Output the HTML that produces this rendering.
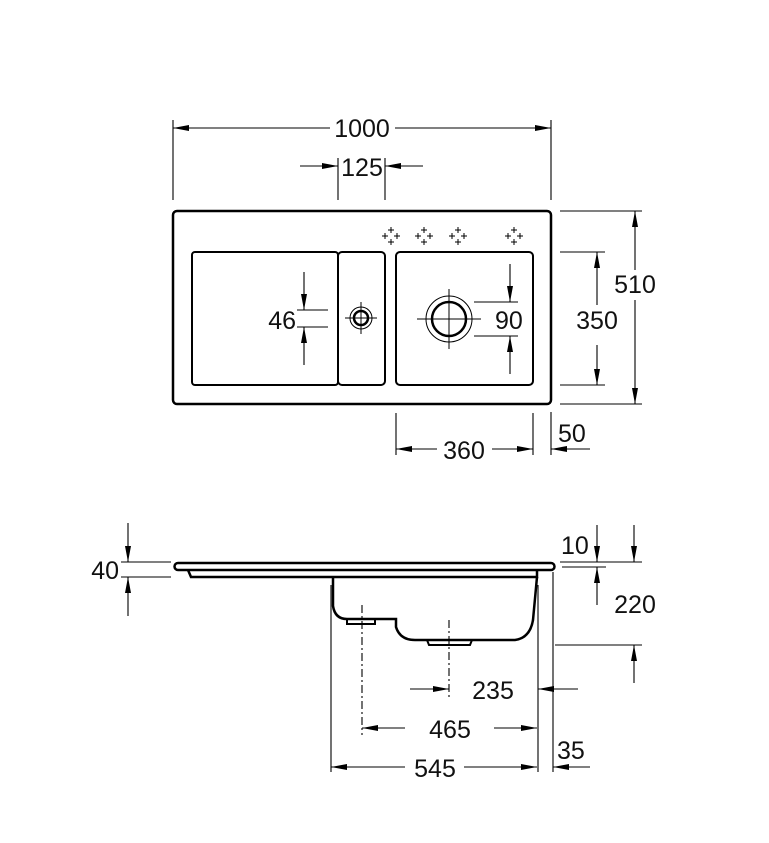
<!DOCTYPE html>
<html><head><meta charset="utf-8"><style>
html,body{margin:0;padding:0;background:#fff;width:769px;height:843px;overflow:hidden}
svg{display:block}
text{font-family:"Liberation Sans",Arial,sans-serif;font-size:25px;fill:#111}
</style></head><body>
<svg width="769" height="843" viewBox="0 0 769 843" xmlns="http://www.w3.org/2000/svg">
<defs>
<marker id="a" viewBox="0 0 16 6" refX="16" refY="3" markerWidth="16" markerHeight="6" orient="auto-start-reverse" markerUnits="userSpaceOnUse"><path d="M0,0 L16,3 L0,6 Z" fill="#000"/></marker>
<g id="tap"><path d="M0,-9v6M-3,-6h6M0,3v6M-3,6h6M-9,0h6M-6,-3v6M3,0h6M6,-3v6" stroke="#000" stroke-width="1"/></g>
</defs>
<g fill="none" stroke="#000">
<rect x="173" y="211" width="378" height="193" rx="4" stroke-width="2.5"/>
<rect x="192" y="252" width="146" height="133" rx="3" stroke-width="2"/>
<rect x="338" y="252" width="47" height="133" rx="4" stroke-width="2"/>
<rect x="396" y="252" width="137" height="133" rx="4" stroke-width="2"/>
<circle cx="361" cy="318" r="7" stroke-width="2.5"/>
<circle cx="361" cy="318" r="11" stroke-width="1"/>
<path d="M345,318h32M361,302v32" stroke-width="1"/>
<circle cx="449" cy="319" r="17" stroke-width="2.5"/>
<circle cx="449" cy="319" r="23" stroke-width="1"/>
<path d="M417,319h64M449,289v60" stroke-width="1"/>
</g>
<use href="#tap" x="391" y="236"/><use href="#tap" x="424" y="236"/><use href="#tap" x="458" y="236"/><use href="#tap" x="514" y="236"/>
<g fill="none" stroke="#000" stroke-width="1.1">
<path d="M173,120v80M551,120v80M338,158v42M385,158v42"/>
<path d="M330,128H173" marker-end="url(#a)"/><path d="M395,128H551" marker-end="url(#a)"/>
<path d="M300,166H338" marker-end="url(#a)"/><path d="M423,166H385" marker-end="url(#a)"/>
<path d="M297,310h31M297,327h31"/>
<path d="M304,272V310" marker-end="url(#a)"/><path d="M304,365V327" marker-end="url(#a)"/>
<path d="M474,302h44M474,336h44"/>
<path d="M510,264V302" marker-end="url(#a)"/><path d="M510,374V336" marker-end="url(#a)"/>
<path d="M560,252h45M560,385h45M560,211h82M560,404h82"/>
<path d="M597,305V252" marker-end="url(#a)"/><path d="M597,345V385" marker-end="url(#a)"/>
<path d="M635,270V211" marker-end="url(#a)"/><path d="M635,300V404" marker-end="url(#a)"/>
<path d="M396,413v42M533,413v42M551,412v43"/>
<path d="M437,449H396" marker-end="url(#a)"/><path d="M492,449H533" marker-end="url(#a)"/>
<path d="M590,449H551" marker-end="url(#a)"/>
</g>
<g>
<text x="362" y="137" text-anchor="middle" style="paint-order:stroke" stroke="#fff" stroke-width="8">1000</text>
<text x="362" y="176" text-anchor="middle">125</text>
<text x="296" y="329" text-anchor="end">46</text>
<text x="495" y="329">90</text>
<rect x="573" y="305" width="48" height="30" fill="#fff"/>
<text x="597" y="329" text-anchor="middle">350</text>
<text x="635" y="293" text-anchor="middle" style="paint-order:stroke" stroke="#fff" stroke-width="6">510</text>
<text x="464" y="459" text-anchor="middle">360</text>
<text x="558" y="442">50</text>
</g>
<g fill="none" stroke="#000">
<path d="M178,563H551a3.5,3.5 0 0 1 0,7H178a3.5,3.5 0 0 1 0,-7Z" stroke-width="2.5"/>
<path d="M188,570L191,577H537V570" stroke-width="2.5"/>
<path d="M333,577V606Q335,619 347,619H396V627Q400,640 415,640H515Q530,638 533,620L537,577" stroke-width="2.5"/>
<path d="M347,619v5h28v-5M427,640l2,5h41l2,-5" stroke-width="2"/>
</g>
<g fill="none" stroke="#000" stroke-width="1.1">
<path d="M331,585V772M538,585V772M553,572V772"/>
<path d="M362,605V735M449,620V700" stroke-dasharray="8,3,2,3"/>
<path d="M410,689H449" marker-end="url(#a)"/><path d="M578,689H538" marker-end="url(#a)"/>
<path d="M405,728H362" marker-end="url(#a)"/><path d="M494,728H537" marker-end="url(#a)"/>
<path d="M405,767H331" marker-end="url(#a)"/><path d="M464,767H537" marker-end="url(#a)"/>
<path d="M590,767H553" marker-end="url(#a)"/>
<path d="M121,562h50M121,577h50"/>
<path d="M128,523V562" marker-end="url(#a)"/><path d="M128,616V577" marker-end="url(#a)"/>
<path d="M560,562h82M562,567h44M555,645h87"/>
<path d="M597,525V562" marker-end="url(#a)"/><path d="M597,605V567" marker-end="url(#a)"/>
<path d="M634,525V562" marker-end="url(#a)"/><path d="M634,683V645" marker-end="url(#a)"/>
</g>
<g>
<text x="119" y="579" text-anchor="end">40</text>
<text x="561" y="554">10</text>
<text x="635" y="613" text-anchor="middle">220</text>
<text x="493" y="699" text-anchor="middle">235</text>
<text x="450" y="738" text-anchor="middle">465</text>
<text x="435" y="777" text-anchor="middle">545</text>
<text x="557" y="759">35</text>
</g>
</svg>
</body></html>
